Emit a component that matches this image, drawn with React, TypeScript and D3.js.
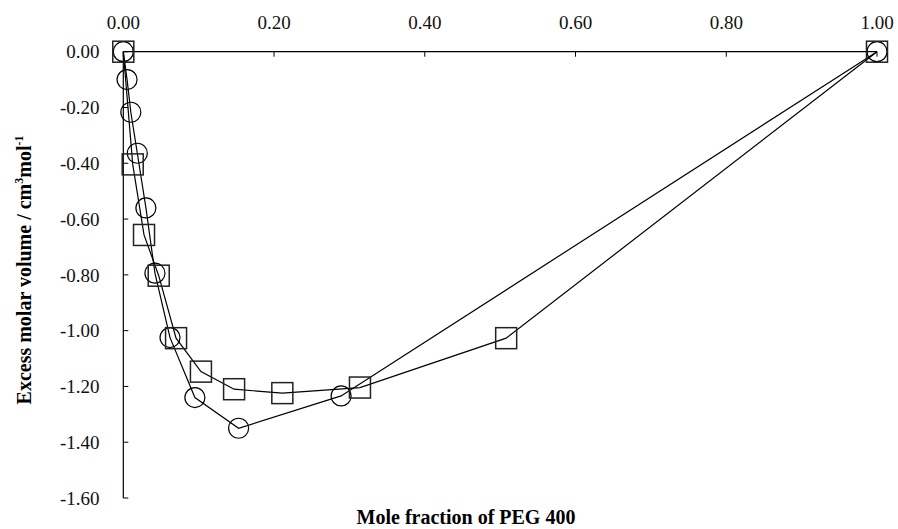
import React from 'react'
import * as d3 from 'd3'

// circle series (open circles)
const circleX = [0, 0.005, 0.010, 0.0186, 0.030, 0.042, 0.062, 0.095, 0.153, 0.289, 1.0]
const circleY = [0, -0.10, -0.217, -0.364, -0.56, -0.794, -1.025, -1.24, -1.35, -1.234, 0]

// square series (open squares)
const squareX = [0, 0.0125, 0.0275, 0.047, 0.070, 0.103, 0.147, 0.211, 0.314, 0.508, 1.0]
const squareY = [0, -0.404, -0.657, -0.803, -1.027, -1.147, -1.21, -1.224, -1.204, -1.027, 0]

const xTicks = [0, 0.2, 0.4, 0.6, 0.8, 1.0]
const yTicks = [0, -0.2, -0.4, -0.6, -0.8, -1.0, -1.2, -1.4, -1.6]

const W = 898
const H = 529
const FONT = '"Liberation Serif", "DejaVu Serif", serif'

export default function App() {
  const x = d3.scaleLinear().domain([0, 1]).range([123.3, 877])
  const y = d3.scaleLinear().domain([-1.6, 0]).range([498, 51.7])
  // plain hyphen for negatives, like the original
  const fmt = (v: number) => d3.format('.2f')(v).replace('\u2212', '-')

  const line = d3.line<[number, number]>()
    .x(d => x(d[0]))
    .y(d => y(d[1]))

  const circles: [number, number][] = circleX.map((v, i) => [v, circleY[i]])
  const squares: [number, number][] = squareX.map((v, i) => [v, squareY[i]])

  const side = 21

  return (
    <svg width={W} height={H} style={{ position: 'absolute', left: 0, top: 0, display: 'block' }}
      fontFamily={FONT}>
      <rect width={W} height={H} fill="#fff" />

      {/* x axis at y = 0, labels on top, ticks pointing down */}
      <line x1={x(0)} x2={x(1)} y1={y(0)} y2={y(0)} stroke="#000" strokeWidth={1.2} />
      {xTicks.map(t => (
        <g key={'xt' + t}>
          <line x1={x(t)} x2={x(t)} y1={y(0)} y2={y(0) + 5} stroke="#000" strokeWidth={1} />
          <text x={x(t)} y={29} textAnchor="middle" fontSize={19} fill="#111">{fmt(t)}</text>
        </g>
      ))}

      {/* y axis, ticks pointing right */}
      <line x1={x(0)} x2={x(0)} y1={y(0)} y2={y(-1.6)} stroke="#000" strokeWidth={1.2} />
      {yTicks.map(t => (
        <g key={'yt' + t}>
          <line x1={x(0)} x2={x(0) + 5} y1={y(t)} y2={y(t)} stroke="#000" strokeWidth={1} />
          <text x={99.5} y={y(t)} dy="0.35em" textAnchor="end" fontSize={19} fill="#111">{fmt(t)}</text>
        </g>
      ))}

      {/* series lines */}
      <path d={line(circles) ?? ''} fill="none" stroke="#000" strokeWidth={1.2} />
      <path d={line(squares) ?? ''} fill="none" stroke="#000" strokeWidth={1.2} />

      {/* markers */}
      {circles.map((d, i) => (
        <circle key={'c' + i} cx={x(d[0])} cy={y(d[1])} r={10}
          fill="none" stroke="#000" strokeWidth={1.2} />
      ))}
      {squares.map((d, i) => (
        <rect key={'s' + i} x={x(d[0]) - side / 2} y={y(d[1]) - side / 2} width={side} height={side}
          fill="none" stroke="#222" strokeWidth={1.5} />
      ))}

      {/* axis titles */}
      <text x={466} y={524} textAnchor="middle" fontSize={20} fontWeight="bold" fill="#000">
        Mole fraction of PEG 400
      </text>
      <text transform="translate(31,270) rotate(-90)" textAnchor="middle" fontSize={20}
        fontWeight="bold" fill="#000">
        Excess molar volume / cm<tspan fontSize={12} dy={-8}>3</tspan>
        <tspan dy={8}>mol</tspan><tspan fontSize={12} dy={-8}>-1</tspan>
      </text>
    </svg>
  )
}
